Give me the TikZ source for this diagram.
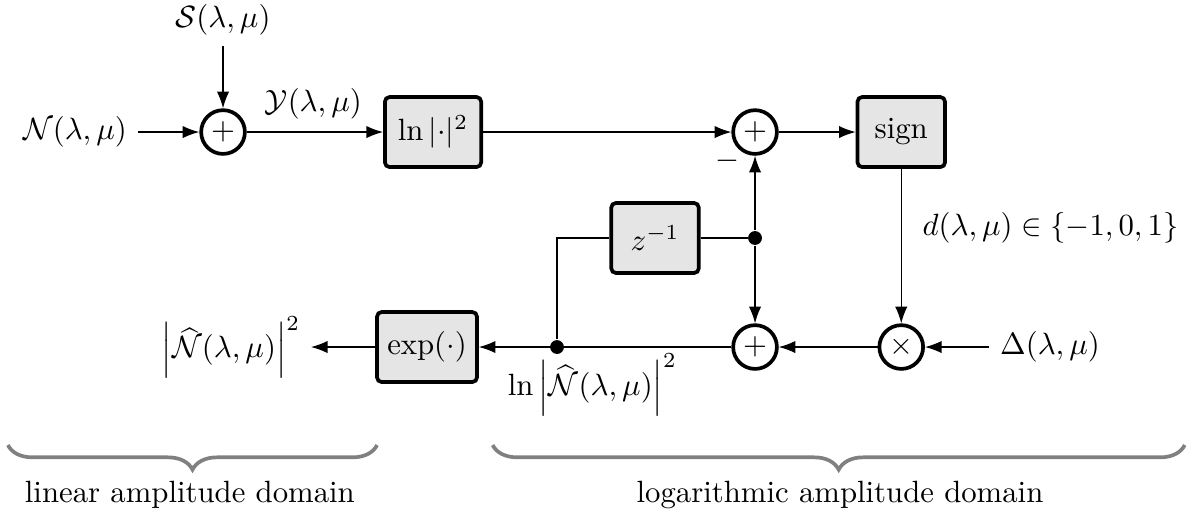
\documentclass[tikz,border=0pt]{standalone}
\usepackage{amsmath}
\usepackage{amssymb}
\usetikzlibrary{
  arrows.meta,
  positioning,
  calc,
  decorations.pathreplacing
}

\begin{document}
\begin{tikzpicture}
  [
    >={Latex[length=1.9mm,width=1.4mm]},
    block/.style={draw, very thick, fill=black!10, rounded corners=1.5pt,
      minimum width=1.0cm, minimum height=0.8cm},
    summer/.style={draw, very thick, circle, minimum size=0.5cm, inner sep=0pt},
    dot/.style={circle, fill, inner sep=0pt, minimum size=4.5pt},
    dombrace/.style={decorate, decoration={brace, amplitude=8pt, mirror},
      line width=1.2pt, black!50},
  ]
  % \draw[help lines] grid(14,6);
  \useasboundingbox (0,0) rectangle (13.623,5.886);

  \node (sum1) [summer] at (2.549,4.377) {$+$};
  \node (Sin) at (2.549,5.657) {$\mathcal{S}(\lambda,\mu)$};
  \node (Nin) at (0.857,4.377) {$\mathcal{N}(\lambda,\mu)$};
  \node (lnb) [block, minimum width=1.1cm] at (4.949,4.377) {$\ln|{\cdot}|^2$};
  \node (sum2) [summer] at (8.629,4.377) {$+$};
  \node (signb) [block] at (10.30,4.377) {sign};
  \node (minus) at (8.309,4.046) {$-$};

  \node (junc) [dot] at (8.629,3.166) {};
  \node (zinv) [block] at (7.486,3.166) {$z^{-1}$};

  \node (sum3) [summer] at (8.629,1.92) {$+$};
  \node (mult) [summer] at (10.30,1.92) {$\times$};
  \node (Din) at (12.0,1.92) {$\Delta(\lambda,\mu)$};
  \node (split) [dot] at (6.366,1.92) {};
  \node (expb) [block, minimum width=1.05cm] at (4.88,1.92) {$\exp(\cdot)$};
  \node (Nout) at (2.64,1.92) {$\left|\widehat{\mathcal{N}}(\lambda,\mu)\right|^2$};

  \node (Ylab) at (3.58,4.70) {$\mathcal{Y}(\lambda,\mu)$};
  \node (dlab) [anchor=west] at (10.42,3.28) {$d(\lambda,\mu)\in\{-1,0,1\}$};
  \node (lnlab) at (6.77,1.49) {$\ln\left|\widehat{\mathcal{N}}(\lambda,\mu)\right|^2$};

  \draw[->] (Nin) -- (sum1);
  \draw[->] (Sin) -- (sum1);
  \draw[->] (sum1) -- (lnb);
  \draw[->] (lnb) -- (sum2);
  \draw[->] (sum2) -- (signb);
  \draw[->] (signb) -- (mult);
  \draw[->] (junc) -- (sum2);
  \draw[->] (junc) -- (sum3);
  \draw (zinv) -- (junc);
  \draw (zinv.west) -| (split);
  \draw[->] (Din) -- (mult);
  \draw[->] (mult) -- (sum3);
  \draw[->] (sum3) -- (expb);
  \draw[->] (expb) -- (Nout);

  \draw[dombrace] (0.09,0.80) -- (4.31,0.80);
  \draw[dombrace] (5.63,0.80) -- (13.54,0.80);
  \node (lindom) at (2.17,0.229) {linear amplitude domain};
  \node (logdom) at (9.6,0.229) {logarithmic amplitude domain};
\end{tikzpicture}
\end{document}
